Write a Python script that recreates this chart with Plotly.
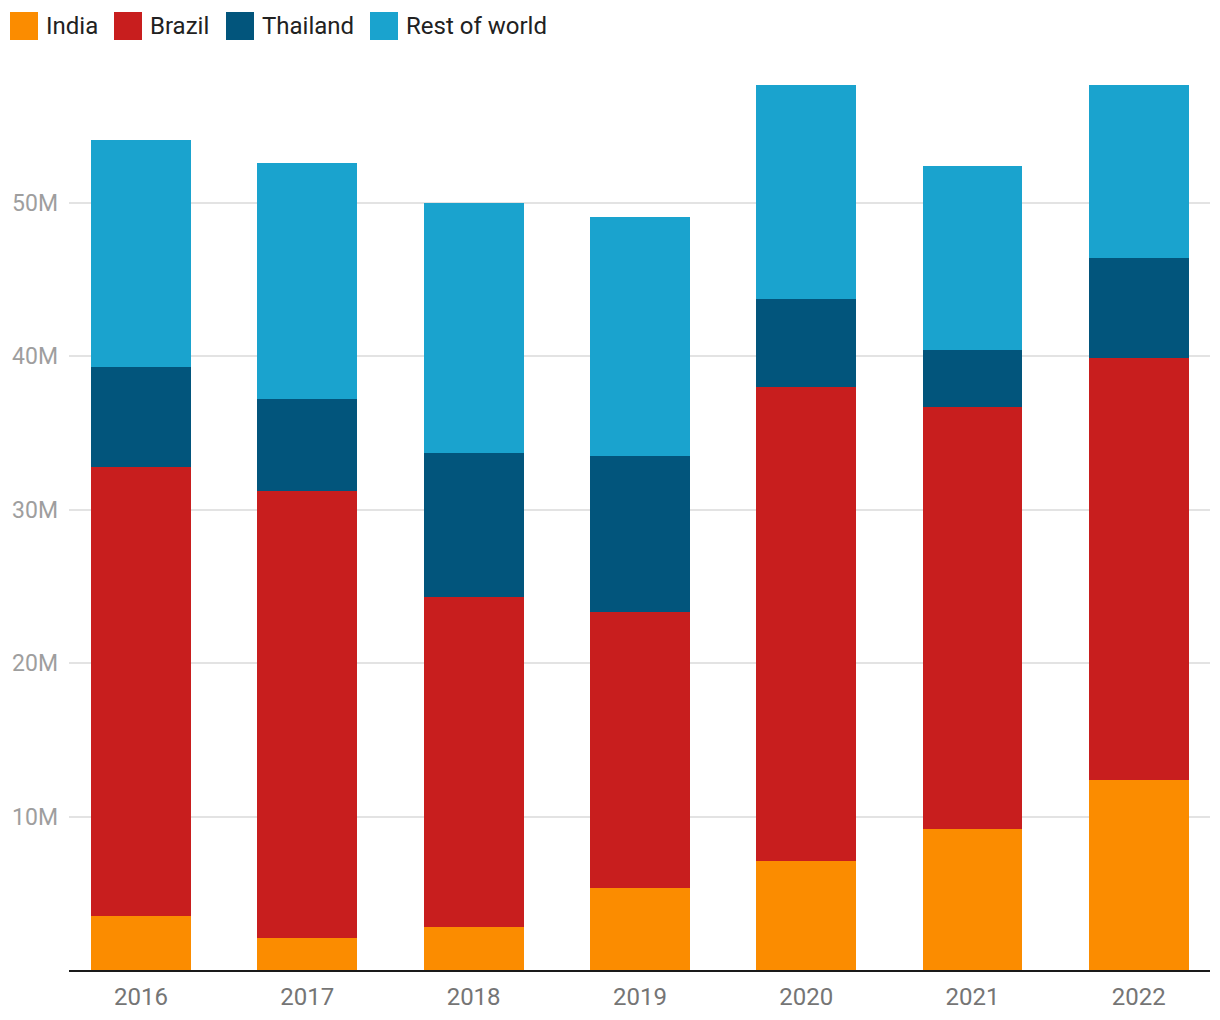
import plotly.graph_objects as go

years = ["2016", "2017", "2018", "2019", "2020", "2021", "2022"]
india = [3.52, 2.09, 2.8, 5.35, 7.1, 9.2, 12.4]
brazil = [29.28, 29.1, 21.5, 17.95, 30.9, 27.5, 27.5]
thailand = [6.5, 6.0, 9.4, 10.2, 5.7, 3.7, 6.5]
rest_of_world = [14.8, 15.4, 16.3, 15.55, 14.0, 12.0, 11.3]

series_names = ["India", "Brazil", "Thailand", "Rest of world"]
series_values = [india, brazil, thailand, rest_of_world]
colors = ["#FB8C00", "#C81E1E", "#02557C", "#1AA3CE"]

y_tick_vals = [10, 20, 30, 40, 50]
y_tick_text = ["10M", "20M", "30M", "40M", "50M"]

OFF = 8  # page body margin
W, H = 1220 - OFF, 1020 - OFF
ml, mr, mt, mb = 69 - OFF, 10, 80 - OFF, 50
pw = W - ml - mr
ph = H - mt - mb

fig = go.Figure()
for name, vals, c in zip(series_names, series_values, colors):
    fig.add_trace(go.Bar(
        x=years, y=vals, name=name, marker=dict(color=c, line=dict(width=0)),
        showlegend=False,
        hovertemplate="%{x}<br>" + name + ": %{y:.1f}M<extra></extra>",
    ))

# custom legend (paper coordinates from page-pixel layout)
def px_x(p):
    return (p - OFF - ml) / pw

def px_y(p):
    return (H - mb - (p - OFF)) / ph

legend_sq_x = [10, 114, 226, 370]
shapes = []
annotations = []
for name, c, x0 in zip(series_names, colors, legend_sq_x):
    shapes.append(dict(type="rect", xref="paper", yref="paper",
                       x0=px_x(x0), x1=px_x(x0 + 28), y0=px_y(40), y1=px_y(12),
                       fillcolor=c, line=dict(width=0)))
    annotations.append(dict(xref="paper", yref="paper", x=px_x(x0 + 34), y=px_y(26),
                            text=name, showarrow=False, xanchor="left", yanchor="middle",
                            font=dict(family="Roboto", size=24, color="#212121")))

fig.update_layout(
    width=W, height=H,
    margin=dict(l=ml, r=mr, t=mt, b=mb, pad=0),
    barmode="stack",
    bargap=0.4,
    plot_bgcolor="white",
    paper_bgcolor="white",
    font=dict(family="Roboto"),
    shapes=shapes,
    annotations=annotations,
    xaxis=dict(
        type="category",
        range=[-0.433, 6.428],
        automargin=False,
        showgrid=False,
        showline=True, linecolor="#1a1a1a", linewidth=2,
        ticks="", tickfont=dict(family="Roboto", size=24, color="#757575"),
        ticklabelstandoff=4,
    ),
    yaxis=dict(
        range=[0, 58.0],
        automargin=False,
        tickvals=y_tick_vals, ticktext=y_tick_text,
        showgrid=True, gridcolor="#e3e3e3", gridwidth=1.5,
        zeroline=False, showline=False,
        ticks="", tickfont=dict(family="Roboto", size=23, color="#9e9e9e"),
        ticklabelstandoff=10,
    ),
)

fig.write_html("out.html")
